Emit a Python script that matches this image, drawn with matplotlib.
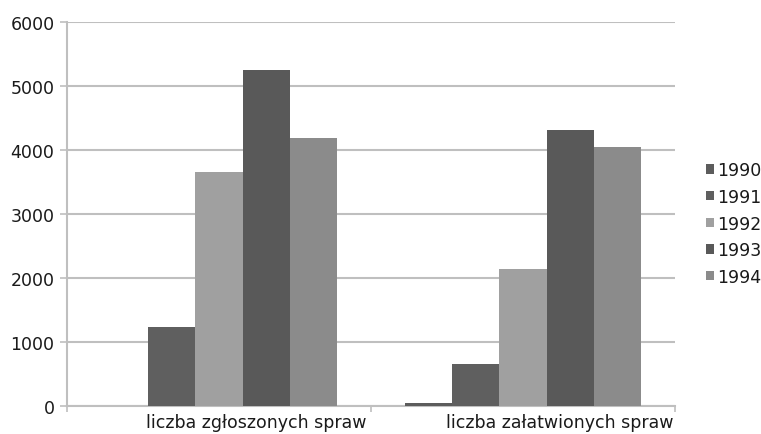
import matplotlib
matplotlib.use("Agg")
import matplotlib.pyplot as plt
import matplotlib.transforms as mtransforms
import numpy as np

categories = ["liczba zgłoszonych spraw", "liczba załatwionych spraw"]
years = ["1990", "1991", "1992", "1993", "1994"]
values_1990 = [0, 50]
values_1991 = [1235, 650]
values_1992 = [3655, 2140]
values_1993 = [5250, 4320]
values_1994 = [4190, 4050]
series = [values_1990, values_1991, values_1992, values_1993, values_1994]
colors = ["#5c5c5c", "#5f5f5f", "#a0a0a0", "#595959", "#8b8b8b"]

plt.rcParams['font.family'] = ['DejaVu Sans']

fig = plt.figure(figsize=(7.61, 4.35), dpi=100)
ax = fig.add_axes([67/761, 28/435, (675-67)/761, (407-23)/435])

x = np.arange(len(categories))
bw = 0.155
for i, (vals, c, lab) in enumerate(zip(series, colors, years)):
    ax.bar(x + (i - 2) * bw, vals, width=bw, color=c, label=lab, zorder=3)

ax.set_xlim(-0.5, 1.5)
ax.set_ylim(0, 6000)
ax.set_yticks(np.arange(0, 6001, 1000))
ax.yaxis.grid(True, color="#bfbfbf", linewidth=1.5, zorder=0)
ax.set_xticks(x)
ax.set_xticklabels(categories, fontsize=12.5, color="#1a1a1a")
ax.set_xticks([-0.5, 0.5, 1.5], minor=True)
ax.tick_params(axis='x', which='major', length=0, pad=5)
ax.tick_params(axis='x', which='minor', length=4, color="#bfbfbf", width=1.2)
ax.tick_params(axis='y', length=5, color="#bfbfbf", width=1.2, labelsize=12.5,
               pad=4, labelcolor="#1a1a1a")
offset = mtransforms.ScaledTranslation(37/100, 0, fig.dpi_scale_trans)
for lbl in ax.get_xticklabels():
    lbl.set_transform(lbl.get_transform() + offset)
for s in ["top", "right"]:
    ax.spines[s].set_visible(False)
for s in ["left", "bottom"]:
    ax.spines[s].set_color("#bfbfbf")
    ax.spines[s].set_linewidth(1.5)

leg = ax.legend(loc="center left", bbox_to_anchor=(1.04, 0.475), frameon=False,
                fontsize=12.5, handlelength=0.45, handleheight=0.45,
                handletextpad=0.2, labelspacing=0.5, borderaxespad=0)
for t in leg.get_texts():
    t.set_color("#1a1a1a")

fig.savefig("out.png", dpi=100)
